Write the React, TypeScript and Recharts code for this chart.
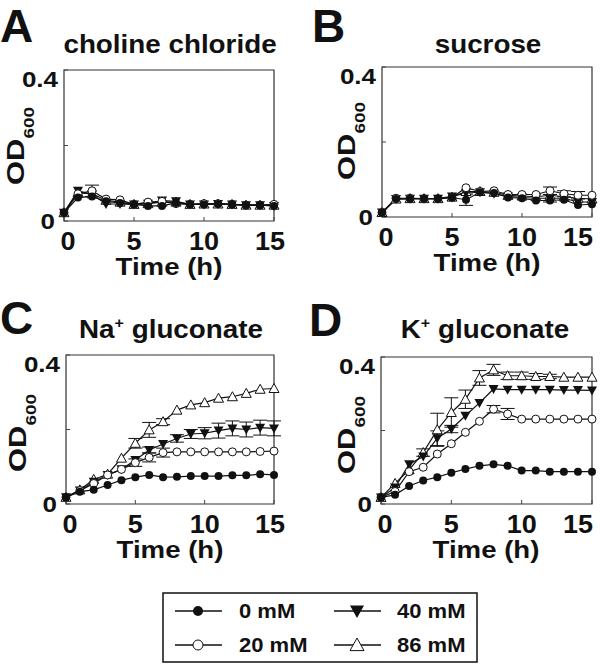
import { ErrorBar, Line, LineChart, ReferenceArea, XAxis, YAxis } from 'recharts'

const INK = '#111'
const FONT = '"Liberation Sans", Arial, sans-serif'

const hours = [0, 1, 2, 3, 4, 5, 6, 7, 8, 9, 10, 11, 12, 13, 14, 15]

// A: choline chloride
const cholineMM0 = [0.022, 0.062, 0.065, 0.052, 0.048, 0.044, 0.04, 0.04, 0.048, 0.044, 0.044, 0.045, 0.044, 0.042, 0.042, 0.04]
const cholineMM20 = [0.022, 0.072, 0.08, 0.058, 0.056, 0.044, 0.05, 0.052, 0.046, 0.044, 0.046, 0.046, 0.044, 0.042, 0.042, 0.044]
const cholineMM40 = [0.022, 0.08, 0.07, 0.045, 0.045, 0.044, 0.046, 0.054, 0.052, 0.044, 0.044, 0.045, 0.044, 0.042, 0.042, 0.04]
const cholineMM86 = [0.022, 0.075, 0.072, 0.055, 0.05, 0.044, 0.046, 0.05, 0.05, 0.044, 0.045, 0.045, 0.044, 0.042, 0.042, 0.042]
const cholineErr0 = [0, 0, 0, 0, 0, 0, 0, 0, 0, 0, 0, 0, 0, 0, 0, 0]
const cholineErr20 = [0, 0, 0.015, 0, 0, 0, 0, 0, 0, 0, 0, 0, 0, 0, 0, 0]
const cholineErr40 = [0, 0, 0, 0, 0, 0, 0, 0, 0, 0, 0, 0, 0, 0, 0, 0]
const cholineErr86 = [0, 0, 0, 0, 0, 0, 0, 0, 0, 0, 0, 0, 0, 0, 0, 0]

// B: sucrose
const sucroseMM0 = [0.012, 0.048, 0.049, 0.049, 0.049, 0.052, 0.046, 0.066, 0.064, 0.052, 0.05, 0.044, 0.044, 0.046, 0.032, 0.034]
const sucroseMM20 = [0.012, 0.05, 0.05, 0.049, 0.049, 0.052, 0.078, 0.068, 0.07, 0.06, 0.06, 0.06, 0.07, 0.062, 0.058, 0.058]
const sucroseMM40 = [0.012, 0.048, 0.049, 0.049, 0.049, 0.055, 0.064, 0.066, 0.062, 0.055, 0.052, 0.05, 0.05, 0.05, 0.04, 0.04]
const sucroseMM86 = [0.012, 0.048, 0.049, 0.049, 0.049, 0.053, 0.068, 0.068, 0.066, 0.058, 0.056, 0.054, 0.058, 0.054, 0.05, 0.048]
const sucroseErr0 = [0, 0, 0, 0, 0, 0, 0.015, 0, 0, 0, 0, 0, 0, 0, 0, 0]
const sucroseErr20 = [0, 0, 0, 0, 0, 0, 0, 0, 0, 0, 0, 0, 0.01, 0.008, 0.01, 0]
const sucroseErr40 = [0, 0, 0, 0, 0, 0, 0, 0, 0, 0, 0, 0, 0.01, 0, 0, 0]
const sucroseErr86 = [0, 0, 0, 0, 0, 0, 0, 0, 0, 0, 0, 0, 0, 0, 0, 0]

// C: Na+ gluconate
const naMM0 = [0.018, 0.033, 0.038, 0.051, 0.064, 0.072, 0.078, 0.072, 0.073, 0.075, 0.075, 0.075, 0.077, 0.077, 0.08, 0.078]
const naMM20 = [0.018, 0.036, 0.055, 0.078, 0.093, 0.111, 0.125, 0.138, 0.14, 0.14, 0.14, 0.14, 0.14, 0.14, 0.141, 0.142]
const naMM40 = [0.018, 0.036, 0.06, 0.078, 0.093, 0.118, 0.145, 0.161, 0.176, 0.188, 0.19, 0.197, 0.203, 0.2, 0.205, 0.203]
const naMM86 = [0.018, 0.038, 0.066, 0.08, 0.123, 0.163, 0.199, 0.221, 0.252, 0.266, 0.272, 0.284, 0.288, 0.297, 0.308, 0.31]
const naErr0 = [0, 0, 0, 0, 0, 0, 0, 0, 0, 0, 0, 0, 0, 0, 0, 0]
const naErr20 = [0, 0, 0, 0, 0, 0.01, 0.012, 0.012, 0, 0, 0, 0, 0, 0, 0, 0]
const naErr40 = [0, 0, 0, 0, 0, 0, 0.008, 0, 0.01, 0.012, 0.015, 0.02, 0.02, 0.02, 0.02, 0.02]
const naErr86 = [0, 0, 0, 0, 0, 0.013, 0.02, 0.008, 0, 0, 0, 0, 0, 0, 0, 0]

// D: K+ gluconate
const kMM0 = [0.018, 0.025, 0.049, 0.064, 0.073, 0.085, 0.095, 0.104, 0.108, 0.104, 0.091, 0.091, 0.088, 0.088, 0.088, 0.088]
const kMM20 = [0.018, 0.034, 0.088, 0.1, 0.136, 0.164, 0.195, 0.225, 0.258, 0.245, 0.231, 0.231, 0.231, 0.231, 0.231, 0.231]
const kMM40 = [0.018, 0.045, 0.108, 0.129, 0.179, 0.204, 0.24, 0.275, 0.313, 0.311, 0.311, 0.311, 0.311, 0.31, 0.31, 0.309]
const kMM86 = [0.018, 0.056, 0.093, 0.14, 0.202, 0.249, 0.285, 0.343, 0.365, 0.349, 0.349, 0.347, 0.347, 0.345, 0.345, 0.345]
const kErr0 = [0, 0, 0, 0, 0, 0, 0, 0, 0, 0, 0, 0, 0, 0, 0, 0]
const kErr20 = [0, 0, 0, 0, 0, 0, 0, 0, 0.01, 0.015, 0, 0, 0, 0, 0, 0]
const kErr40 = [0, 0, 0, 0, 0.02, 0.01, 0, 0, 0, 0, 0, 0, 0, 0, 0, 0]
const kErr86 = [0, 0, 0, 0.01, 0.045, 0.04, 0.025, 0.02, 0.015, 0.01, 0.01, 0.008, 0.006, 0, 0, 0]

const xTicks = [0, 5, 10, 15]
const yTicks = [0, 0.2, 0.4]
const legendLabels = ['0 mM', '20 mM', '40 mM', '86 mM']

function buildRows(s: number[][], e: number[][]) {
  return hours.map((t, i) => ({
    t,
    s0: s[0][i], s20: s[1][i], s40: s[2][i], s86: s[3][i],
    e0: e[0][i], e20: e[1][i], e40: e[2][i], e86: e[3][i],
  }))
}

// markers
const FilledCircle = ({ cx, cy, r = 4 }: any) => <circle cx={cx} cy={cy} r={r} fill={INK} />
const OpenCircle = ({ cx, cy, r = 4 }: any) => <circle cx={cx} cy={cy} r={r} fill="#fff" stroke={INK} strokeWidth={1} />
const DownTriangle = ({ cx, cy, s = 5 }: any) => (
  <path d={`M${cx - s},${cy - s * 0.8}L${cx + s},${cy - s * 0.8}L${cx},${cy + s}Z`} fill={INK} />
)
const UpTriangle = ({ cx, cy, s = 5 }: any) => (
  <path d={`M${cx - s},${cy + s * 0.8}L${cx + s},${cy + s * 0.8}L${cx},${cy - s}Z`} fill="#fff" stroke={INK} strokeWidth={1} />
)

const dotFn = (Shape: any) => (p: any) => <Shape key={p.index} cx={p.cx} cy={p.cy} />

const XTick = ({ x, y, payload, endShift = -4 }: any) => {
  const v = payload.value
  const shift = v === 0 ? 4 : v === 15 ? endShift : 0
  return (
    <text transform={`translate(${x + shift},${y + 29}) scale(1.08,1)`} textAnchor="middle" fontSize={25} fontWeight="bold" fontFamily={FONT} fill={INK}>
      {v}
    </text>
  )
}

const YTick = ({ x, y, payload }: any) => {
  const v = payload.value
  if (v !== 0 && v !== 0.4) return <g />
  const dy = v === 0.4 ? 17 : 8
  const dx = v === 0.4 ? -6 : -9
  return (
    <text transform={`translate(${x + dx},${y + dy}) scale(1.18,1)`} textAnchor="end" fontSize={22} fontWeight="bold" fontFamily={FONT} fill={INK}>
      {v === 0 ? '0' : '0.4'}
    </text>
  )
}

interface PanelProps {
  left: number
  top: number
  margin: { top: number; right: number; bottom: number; left: number }
  endShift: number
  rows: ReturnType<typeof buildRows>
}

function Panel({ left, top, margin, endShift, rows }: PanelProps) {
  return (
    <div style={{ position: 'absolute', left, top }}>
      <LineChart width={300} height={285} data={rows} margin={margin}>
        <XAxis dataKey="t" type="number" domain={[0, 15]} ticks={xTicks} height={40} axisLine={false}
          tickSize={-4} tickMargin={4} tickLine={{ stroke: '#444' }} tick={<XTick endShift={endShift} />} interval={0} />
        <YAxis type="number" domain={[0, 0.4]} ticks={yTicks} width={60} axisLine={false}
          tickSize={-4} tickMargin={4} tickLine={{ stroke: '#444' }} tick={<YTick />} interval={0} />
        <ReferenceArea x1={0} x2={15} y1={0} y2={0.4} fill="none" fillOpacity={0} stroke="#333" strokeWidth={1.2} />
        <Line type="linear" dataKey="s86" stroke={INK} strokeWidth={1.2} dot={dotFn(UpTriangle)} isAnimationActive={false}>
          <ErrorBar dataKey="e86" width={7} stroke={INK} strokeWidth={1} direction="y" />
        </Line>
        <Line type="linear" dataKey="s40" stroke={INK} strokeWidth={1.2} dot={dotFn(DownTriangle)} isAnimationActive={false}>
          <ErrorBar dataKey="e40" width={7} stroke={INK} strokeWidth={1} direction="y" />
        </Line>
        <Line type="linear" dataKey="s20" stroke={INK} strokeWidth={1.2} dot={dotFn(OpenCircle)} isAnimationActive={false}>
          <ErrorBar dataKey="e20" width={7} stroke={INK} strokeWidth={1} direction="y" />
        </Line>
        <Line type="linear" dataKey="s0" stroke={INK} strokeWidth={1.2} dot={dotFn(FilledCircle)} isAnimationActive={false}>
          <ErrorBar dataKey="e0" width={7} stroke={INK} strokeWidth={1} direction="y" />
        </Line>
      </LineChart>
    </div>
  )
}

const boldText = { fontFamily: FONT, fontWeight: 'bold' as const, fill: INK }

function Title({ cx, y, children }: { cx: number; y: number; children: any }) {
  return (
    <text transform={`translate(${cx},${y}) scale(1.07,1)`} textAnchor="middle" fontSize={26} {...boldText}>
      {children}
    </text>
  )
}

function TimeLabel({ cx, y }: { cx: number; y: number }) {
  return (
    <text transform={`translate(${cx},${y}) scale(1.15,1)`} textAnchor="middle" fontSize={24} {...boldText}>
      Time (h)
    </text>
  )
}

function OdLabel({ x, cy }: { x: number; cy: number }) {
  return (
    <text transform={`translate(${x},${cy}) rotate(-90) scale(1.35,1)`} textAnchor="middle" fontSize={23} {...boldText}>
      OD<tspan fontSize={14} dy={10}>600</tspan>
    </text>
  )
}

function Overlay() {
  const legendShapes = [FilledCircle, OpenCircle, DownTriangle, UpTriangle]
  const legendPos = [
    { lx: 175, y: 611, tx: 239 },
    { lx: 175, y: 645, tx: 239 },
    { lx: 334, y: 611, tx: 397 },
    { lx: 334, y: 645, tx: 397 },
  ]
  return (
    <svg width={600} height={667} style={{ position: 'absolute', left: 0, top: 0, pointerEvents: 'none' }}>
      <text x={0} y={42} fontSize={46} {...boldText}>A</text>
      <text x={312} y={42} fontSize={46} {...boldText}>B</text>
      <text x={0} y={334} fontSize={46} {...boldText}>C</text>
      <text x={309} y={336} fontSize={46} {...boldText}>D</text>

      <Title cx={170} y={53}>choline chloride</Title>
      <Title cx={488} y={53}>sucrose</Title>
      <Title cx={171} y={338}>
        Na<tspan fontSize={15} dy={-10}>+</tspan><tspan dy={10}> gluconate</tspan>
      </Title>
      <Title cx={485} y={338}>
        K<tspan fontSize={15} dy={-10}>+</tspan><tspan dy={10}> gluconate</tspan>
      </Title>

      <TimeLabel cx={169} y={275} />
      <TimeLabel cx={487} y={271} />
      <TimeLabel cx={170} y={558} />
      <TimeLabel cx={486} y={558} />

      <OdLabel x={24} cy={146} />
      <OdLabel x={355} cy={141} />
      <OdLabel x={26} cy={433} />
      <OdLabel x={355} cy={435} />

      <rect x={163} y={593} width={314} height={69} fill="#fff" stroke={INK} strokeWidth={1.5} />
      {legendLabels.map((label, i) => {
        const p = legendPos[i]
        const Shape = legendShapes[i]
        const mx = p.lx + 23
        return (
          <g key={label}>
            <line x1={p.lx} x2={p.lx + 47} y1={p.y} y2={p.y} stroke={INK} strokeWidth={1.5} />
            {i < 2 ? <Shape cx={mx} cy={p.y} r={5} /> : <Shape cx={mx} cy={p.y} s={7} />}
            <text transform={`translate(${p.tx},${p.y + 7}) scale(1.1,1)`} fontSize={20} {...boldText}>{label}</text>
          </g>
        )
      })}
    </svg>
  )
}

export default function App() {
  const rowsA = buildRows([cholineMM0, cholineMM20, cholineMM40, cholineMM86], [cholineErr0, cholineErr20, cholineErr40, cholineErr86])
  const rowsB = buildRows([sucroseMM0, sucroseMM20, sucroseMM40, sucroseMM86], [sucroseErr0, sucroseErr20, sucroseErr40, sucroseErr86])
  const rowsC = buildRows([naMM0, naMM20, naMM40, naMM86], [naErr0, naErr20, naErr40, naErr86])
  const rowsD = buildRows([kMM0, kMM20, kMM40, kMM86], [kErr0, kErr20, kErr40, kErr86])

  return (
    <div style={{ position: 'absolute', left: 0, top: 0, width: 600, height: 667, background: '#fff', fontFamily: FONT }}>
      <Panel left={0} top={0} margin={{ top: 70, right: 26, bottom: 24, left: 4 }} endShift={-4} rows={rowsA} />
      <Panel left={300} top={0} margin={{ top: 67, right: 8, bottom: 28, left: 22 }} endShift={-14} rows={rowsB} />
      <Panel left={0} top={285} margin={{ top: 70, right: 26, bottom: 26, left: 6 }} endShift={-4} rows={rowsC} />
      <Panel left={300} top={285} margin={{ top: 72, right: 8, bottom: 26, left: 21 }} endShift={-14} rows={rowsD} />
      <Overlay />
    </div>
  )
}
